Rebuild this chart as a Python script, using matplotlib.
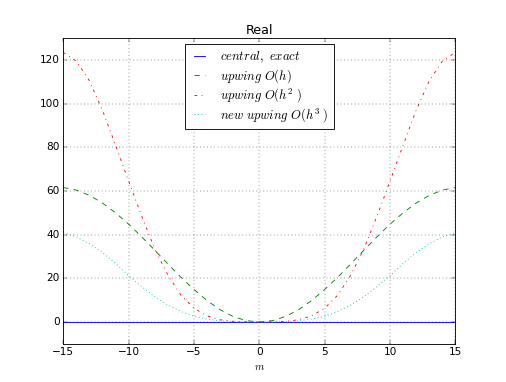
import matplotlib
matplotlib.use("Agg")
import matplotlib.pyplot as plt

plt.style.use("classic")
plt.rcParams["mathtext.fontset"] = "cm"

# values read at integer m, symmetric about m = 0
m = list(range(-15, 16))
half_up1 = [0, 0.6, 2.5, 5.6, 9.8, 14.9, 20.5, 26.6, 32.9, 39.0, 44.8, 50.0, 54.5, 58.0, 60.4, 61.6]
half_up2 = [0, 0.05, 0.3, 1.0, 2.8, 6.3, 12.3, 21.5, 33.5, 48.5, 64.5, 81.0, 97.0, 110.5, 119.5, 123.5]
half_up3 = [0, 0.02, 0.15, 0.5, 1.3, 2.6, 4.8, 7.8, 11.6, 16.2, 21.2, 26.8, 31.8, 35.8, 39.0, 41.0]

central = [0.0] * len(m)
upwind1 = half_up1[:0:-1] + half_up1
upwind2 = half_up2[:0:-1] + half_up2
upwind3 = half_up3[:0:-1] + half_up3

fig = plt.figure(figsize=(8, 6.04), dpi=63.25)
ax = fig.add_subplot(111)
ax.plot(m, central, "b-", label=r"$central,\ exact$")
ax.plot(m, upwind1, "g--", label=r"$upwing\ O(h)$")
ax.plot(m, upwind2, "r-.", label=r"$upwing\ O(h^{2}\ )$")
ax.plot(m, upwind3, "c:", label=r"$new\ upwing\ O(h^{3}\ )$")
ax.set_xlim(-15, 15)
ax.set_ylim(-10, 130)
ax.set_xlabel(r"$m$")
ax.set_title("Real")
ax.grid(True)
ax.legend(loc="upper center", labelspacing=0.15, handlelength=1.5,
          handletextpad=0.9, borderpad=0.4)

fig.savefig("out.png", dpi=63.25, facecolor="white")
